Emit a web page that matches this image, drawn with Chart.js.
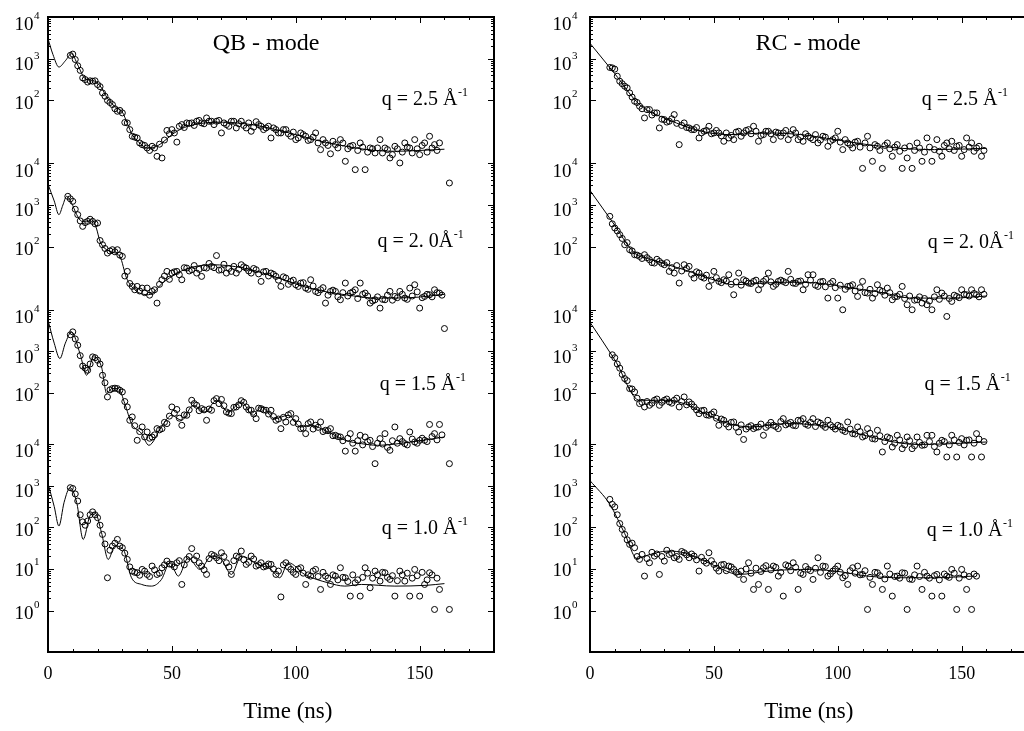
<!DOCTYPE html>
<html>
<head>
<meta charset="utf-8">
<script src="https://cdn.jsdelivr.net/npm/chart.js@4.4.1/dist/chart.umd.min.js"></script>
<style>
html, body { margin: 0; padding: 0; background: #fff; overflow: hidden; width: 1024px; height: 731px; }
.panel { position: absolute; top: 0; height: 731px; }
#leftBox { left: 0; width: 512px; }
#rightBox { left: 512px; width: 540px; }
</style>
</head>
<body>
<div class="panel" id="leftBox"><canvas id="qbChart" width="512" height="731"></canvas></div>
<div class="panel" id="rightBox"><canvas id="rcChart" width="540" height="731"></canvas></div>
<script>
// ================= DATA (log10 of intensity) =================
const timeNs = [8,10,12,14,16,18,20,22,24,26,28,30,32,34,36,38,40,42,44,46,48,50,52,54,56,58,60,62,64,66,68,70,72,74,76,78,80,82,84,86,88,90,92,94,96,98,100,102,104,106,108,110,112,114,116,118,120,122,124,126,128,130,132,134,136,138,140,142,144,146,148,150,152,154,156,158,160,162];
const timeNsOdd = [9,11,13,15,17,19,21,23,25,27,29,31,33,35,37,39,41,43,45,47,49,51,53,55,57,59,61,63,65,67,69,71,73,75,77,79,81,83,85,87,89,91,93,95,97,99,101,103,105,107,109,111,113,115,117,119,121,123,125,127,129,131,133,135,137,139,141,143,145,147,149,151,153,155,157,159,161];

// QB - mode
const qb25 = [null,3.11,2.83,2.54,2.44,2.46,2.38,2.18,2.00,1.90,
  1.74,1.70,1.46,1.14,1.10,0.94,0.86,0.90,0.66,0.62,
  1.28,1.30,1.00,1.42,1.46,1.46,1.50,1.46,1.58,1.50,
  1.50,1.22,1.42,1.50,1.34,1.50,1.34,1.26,1.49,1.38,
  1.34,1.10,1.30,1.22,1.30,1.14,1.06,1.22,1.14,1.06,
  1.22,0.82,0.98,0.72,0.94,1.06,0.54,0.90,0.34,0.98,
  0.34,0.86,0.74,1.06,0.86,0.62,0.90,0.50,0.98,0.86,
  1.06,0.70,0.98,1.14,0.94,0.98,null,0.02];
const qb25odd = [3.08,2.98,2.72,2.50,2.47,2.47,2.33,2.10,1.95,1.80,
  1.76,1.47,1.30,1.12,0.98,0.92,0.80,0.86,0.95,1.05,
  1.20,1.22,1.38,1.35,1.45,1.40,1.52,1.44,1.50,1.42,
  1.52,1.46,1.38,1.50,1.44,1.40,1.46,1.36,1.42,1.30,
  1.38,1.34,1.22,1.30,1.20,1.24,1.10,1.18,1.04,1.12,
  0.98,1.06,0.92,1.02,0.86,0.98,0.84,0.92,0.80,0.88,
  0.76,0.84,0.86,0.74,0.82,0.70,0.84,0.76,0.88,0.74,
  0.84,0.92,0.76,0.86,0.80,null,null];
const qb20 = [3.21,3.09,2.77,2.49,2.61,2.61,2.57,2.05,1.85,1.93,
  1.93,1.77,1.41,1.05,1.05,1.01,1.01,0.93,0.65,1.21,
  1.41,1.37,1.41,1.21,1.49,1.45,1.37,1.29,1.49,1.53,
  1.79,1.45,1.37,1.41,1.37,1.57,1.49,1.37,1.45,1.17,
  1.41,1.37,1.29,1.05,1.25,1.17,1.09,1.13,1.01,1.21,
  0.93,0.97,0.65,0.93,0.93,0.73,1.13,0.89,0.97,1.13,
  0.89,0.65,0.73,0.53,0.73,0.93,0.81,0.93,0.77,1.01,
  1.09,0.53,0.81,0.85,0.97,0.89,0.04,null];
const qb20odd = [3.15,2.90,2.62,2.58,2.66,2.55,2.15,1.96,1.90,1.88,
  1.80,1.30,1.12,0.97,0.94,0.90,0.84,0.97,1.10,1.30,
  1.22,1.40,1.33,1.50,1.42,1.55,1.46,1.50,1.60,1.50,
  1.44,1.58,1.48,1.53,1.46,1.52,1.42,1.48,1.35,1.40,
  1.30,1.34,1.20,1.28,1.10,1.20,1.05,1.14,0.98,1.06,
  0.90,1.02,0.84,0.96,0.80,0.90,0.82,0.92,0.76,0.86,
  0.82,0.70,0.80,0.74,0.84,0.72,0.78,0.86,0.74,0.82,
  0.92,0.78,0.86,0.80,0.90,0.84,null];
const qb15 = [null,3.47,3.15,2.65,2.55,2.87,2.79,2.43,1.91,2.11,
  2.11,2.03,1.67,1.43,0.87,1.19,1.07,0.95,1.15,1.15,
  1.27,1.67,1.61,1.23,1.47,1.83,1.71,1.63,1.35,1.59,
  1.87,1.85,1.55,1.51,1.67,1.82,1.67,1.59,1.39,1.63,
  1.59,1.59,1.35,1.15,1.31,1.51,1.39,1.15,1.03,1.31,
  1.23,1.31,1.11,1.15,0.99,0.95,0.61,1.03,0.61,0.99,
  0.95,0.87,0.31,0.91,1.03,0.63,1.19,0.91,0.79,1.07,
  0.83,0.87,0.87,1.25,1.03,1.25,null,0.31];
const qb15odd = [3.40,3.30,2.90,2.60,2.70,2.85,2.70,2.25,2.08,2.12,
  2.07,1.80,1.35,1.22,1.08,0.95,0.92,1.00,1.12,1.30,
  1.45,1.52,1.40,1.48,1.60,1.75,1.58,1.60,1.62,1.82,
  1.75,1.70,1.52,1.66,1.72,1.78,1.60,1.50,1.64,1.60,
  1.50,1.44,1.38,1.42,1.48,1.30,1.26,1.16,1.27,1.14,
  1.18,1.08,1.10,0.98,0.96,0.86,0.92,0.80,0.86,0.76,
  0.84,0.72,0.80,0.78,0.70,0.86,0.80,0.84,0.76,0.90,
  0.80,0.92,0.84,0.96,0.88,1.00,null];
const qb10 = [null,2.93,2.63,2.13,2.15,2.37,2.23,1.83,0.79,1.55,
  1.71,1.51,1.23,0.95,0.91,0.99,0.87,1.07,0.87,1.03,
  1.19,1.11,1.15,0.63,1.23,1.49,1.31,1.07,0.87,1.35,
  1.27,1.39,1.15,0.87,1.31,1.43,1.11,1.31,1.07,1.15,
  1.07,1.11,0.87,0.33,1.15,0.99,0.87,1.03,0.63,0.83,
  0.99,0.51,0.83,0.63,0.83,1.03,0.79,0.35,0.67,0.35,
  1.03,0.55,0.95,0.71,0.91,0.75,0.35,0.95,0.71,0.35,
  0.99,0.35,0.63,0.91,0.03,0.51,null,0.03];
const qb10odd = [2.95,2.80,2.30,2.05,2.30,2.30,2.05,1.60,1.45,1.62,
  1.55,1.38,1.05,0.92,0.85,0.95,0.82,0.98,0.90,1.10,
  1.12,1.05,1.20,1.10,1.30,1.22,1.15,0.98,1.25,1.32,
  1.20,1.30,1.05,1.20,1.28,1.22,1.16,1.24,1.10,1.05,
  1.12,1.00,0.95,1.10,1.05,0.92,1.00,0.90,0.86,0.95,
  0.82,0.92,0.78,0.86,0.74,0.80,0.70,0.86,0.74,0.80,
  0.90,0.78,0.86,0.92,0.80,0.84,0.72,0.86,0.90,0.78,
  0.84,0.92,0.74,0.86,0.78,null,null];

// RC - mode
const rc25 = [2.79,2.75,2.46,2.34,2.18,1.98,1.86,1.58,1.78,1.70,
  1.34,1.54,1.50,1.66,0.94,1.46,1.34,1.30,1.10,1.26,
  1.38,1.22,1.22,1.02,1.10,1.06,1.26,1.22,1.30,1.38,
  1.02,1.18,1.26,1.06,1.22,1.22,1.06,1.30,1.06,1.02,
  1.14,1.06,0.98,1.14,0.90,1.06,1.26,0.82,0.98,0.86,
  1.02,0.37,1.14,0.54,0.90,0.37,0.98,0.66,0.94,0.37,
  0.62,0.37,0.98,0.54,1.10,0.54,1.06,0.66,0.98,1.02,
  0.90,0.66,1.10,0.98,0.86,0.66,null,null];
const rc25odd = [2.78,2.58,2.40,2.30,2.08,1.95,1.80,1.78,1.65,1.70,
  1.55,1.48,1.56,1.45,1.40,1.35,1.30,1.35,1.22,1.28,
  1.20,1.28,1.15,1.22,1.16,1.24,1.14,1.28,1.20,1.26,
  1.16,1.26,1.20,1.24,1.14,1.28,1.18,1.22,1.12,1.20,
  1.10,1.18,1.05,1.12,1.02,1.10,1.00,1.06,0.94,1.00,
  0.88,0.98,0.86,0.94,0.80,0.92,0.84,0.88,0.78,0.86,
  0.90,0.80,0.86,0.76,0.88,0.82,0.78,0.92,0.84,0.80,
  0.92,0.82,0.88,0.78,0.90,0.80,null];
const rc20 = [2.73,2.45,2.29,2.05,1.93,1.81,1.77,1.81,1.69,1.61,
  1.65,1.57,1.41,1.37,1.13,1.57,1.53,1.25,1.37,1.25,
  1.05,1.41,1.17,1.21,1.33,0.85,1.37,1.21,1.13,1.17,
  0.97,1.17,1.37,1.05,1.17,1.17,1.41,1.13,1.17,0.97,
  1.33,1.33,1.05,1.17,0.77,1.17,0.77,0.49,1.05,1.09,
  0.81,1.17,0.89,0.77,1.09,0.93,1.01,0.73,0.81,1.05,
  0.61,0.49,0.73,0.65,0.61,0.49,0.97,0.89,0.33,0.69,
  0.81,0.97,0.85,0.97,0.85,0.97,null,null];
const rc20odd = [2.55,2.38,2.20,2.10,1.90,1.80,1.72,1.74,1.62,1.70,
  1.60,1.62,1.50,1.55,1.42,1.48,1.34,1.40,1.28,1.32,
  1.20,1.26,1.14,1.18,1.10,1.16,1.08,1.18,1.12,1.20,
  1.10,1.22,1.16,1.10,1.20,1.14,1.22,1.12,1.18,1.10,
  1.20,1.08,1.16,1.04,1.12,1.02,1.08,0.98,1.06,0.94,
  1.02,0.90,0.98,0.88,0.96,0.84,0.90,0.80,0.86,0.76,
  0.82,0.72,0.80,0.76,0.70,0.80,0.74,0.82,0.76,0.84,
  0.78,0.86,0.82,0.88,0.80,0.86,null];
const rc15 = [null,2.85,2.60,2.35,2.11,2.03,1.75,1.67,1.71,1.83,
  1.71,1.83,1.79,1.83,1.67,1.91,1.79,1.67,1.51,1.59,
  1.47,1.55,1.23,1.35,1.19,1.31,1.07,0.89,1.19,1.15,
  1.19,0.99,1.23,1.23,1.15,1.39,1.27,1.23,1.35,1.39,
  1.23,1.39,1.31,1.23,1.35,1.19,1.23,1.11,1.31,1.03,
  1.19,0.95,1.15,0.91,1.11,0.59,0.95,0.71,0.99,0.67,
  0.95,0.67,0.95,0.75,0.99,0.99,0.59,0.87,0.47,0.99,
  0.47,0.91,0.87,0.47,1.03,0.47,null,null];
const rc15odd = [2.92,2.70,2.45,2.30,2.10,1.88,1.78,1.80,1.76,1.86,
  1.78,1.86,1.76,1.88,1.80,1.72,1.74,1.60,1.58,1.48,
  1.50,1.40,1.38,1.26,1.30,1.18,1.24,1.14,1.22,1.18,
  1.26,1.18,1.30,1.20,1.32,1.24,1.30,1.22,1.34,1.26,
  1.30,1.20,1.28,1.18,1.24,1.14,1.20,1.08,1.14,1.02,
  1.08,0.98,1.04,0.90,0.98,0.84,0.92,0.80,0.88,0.76,
  0.86,0.74,0.82,0.76,0.84,0.72,0.80,0.84,0.76,0.88,
  0.82,0.76,0.88,0.80,0.90,0.84,null];
const rc10 = [2.67,2.49,2.09,1.83,1.59,1.51,1.23,0.83,1.15,1.31,
  0.87,1.19,1.35,1.27,1.23,1.39,1.27,1.31,0.95,1.19,
  1.39,1.11,0.95,1.11,1.07,0.99,0.87,0.75,1.15,0.51,
  0.63,1.03,0.51,1.07,0.83,0.35,1.07,1.15,0.51,0.87,
  0.99,0.75,1.27,1.07,0.83,0.95,1.07,0.79,0.63,1.03,
  1.07,0.87,0.03,0.63,0.91,0.51,1.07,0.35,0.83,0.91,
  0.03,0.75,1.07,0.51,0.83,0.35,0.87,0.35,0.83,0.99,
  0.03,0.99,0.51,0.03,0.83,null,null,null];
const rc10odd = [2.55,2.30,1.95,1.70,1.62,1.30,1.35,1.25,1.40,1.36,
  1.30,1.45,1.38,1.30,1.42,1.34,1.36,1.22,1.28,1.14,
  1.20,1.02,1.10,0.96,1.05,0.92,0.95,1.00,0.90,1.02,
  0.94,1.08,0.98,1.04,0.92,1.10,0.96,1.04,0.90,1.06,
  0.96,1.02,0.92,1.06,0.88,1.00,0.92,0.84,0.96,0.90,
  0.86,0.96,0.80,0.92,0.84,0.76,0.88,0.82,0.78,0.90,
  0.76,0.86,0.82,0.92,0.78,0.84,0.74,0.88,0.80,0.90,
  0.78,0.86,0.82,0.88,null,null,null];

// fitted curves: [time ns, log10 I]
const qbFit25 = [[0,3.48],[2,3.1],[4.4,2.8],[7,2.95],[9.5,3.12],[12,2.85],[15,2.52],[18,2.48],[21,2.35],[24,2.05],[27,1.85],[30,1.72],[32,1.45],[34,1.18],[37,0.98],[40,0.86],[43,0.88],[46,0.98],[50,1.18],[55,1.35],[62,1.45],[70,1.48],[78,1.45],[86,1.38],[94,1.27],[100,1.18],[108,1.05],[116,0.95],[124,0.86],[132,0.8],[140,0.78],[150,0.8],[160,0.83]];
const qbFit20 = [[0,3.5],[2.5,3.1],[4.4,2.77],[6,3.0],[7.5,3.21],[9.5,3.05],[11.6,2.77],[13.6,2.61],[15.5,2.6],[17.6,2.65],[19.5,2.45],[21,2.13],[25,1.89],[29,1.77],[31.7,1.25],[35,0.97],[40.5,0.85],[47,1.17],[55,1.45],[66,1.57],[79,1.49],[93,1.25],[106,1.0],[120,0.85],[133,0.77],[146,0.78],[160,0.86]];
const qbFit15 = [[0,3.75],[2.5,3.2],[4.8,2.83],[7,3.2],[9.5,3.47],[12.9,2.95],[15.6,2.43],[18.3,2.87],[21.6,2.63],[23.7,1.99],[25.7,2.11],[28.4,2.11],[31,1.75],[33.7,1.27],[37.8,1.03],[40.7,0.75],[45.8,1.19],[49.9,1.47],[53.9,1.35],[58.6,1.71],[63.3,1.55],[68,1.83],[72.7,1.55],[78,1.79],[82.8,1.47],[86,1.67],[91.5,1.39],[97,1.47],[102,1.19],[106,1.23],[113,1.07],[120,0.87],[126.5,0.79],[133,0.75],[146.6,0.83],[160,0.95]];
const qbFit10 = [[0,3.05],[2.5,2.5],[4.4,2.03],[6.5,2.6],[8.9,2.95],[11.6,2.59],[14.2,1.71],[16.9,2.27],[19,2.35],[21.6,1.87],[24.3,1.23],[27,1.55],[30.4,1.47],[33.7,0.79],[37.8,0.63],[41.8,0.59],[45.8,0.75],[49.2,1.15],[52.6,0.83],[56.6,1.27],[61.3,0.99],[66,1.31],[70,1.23],[74,0.87],[78,1.31],[84.8,1.11],[90,0.99],[93.5,0.79],[97,1.15],[103.6,0.87],[113,0.67],[119.8,0.59],[126.5,0.63],[140,0.59],[153,0.61],[160,0.65]];
const rcFit25 = [[0,3.37],[10,2.64],[20,1.9],[31.6,1.54],[45,1.26],[56,1.18],[72,1.22],[85,1.18],[99,1.06],[112,0.94],[126,0.85],[139,0.82],[160,0.85]];
const rcFit20 = [[0,3.35],[9,2.6],[18,1.85],[25,1.69],[38,1.45],[52,1.17],[58,1.09],[65,1.11],[79,1.15],[92,1.13],[105.5,1.01],[119,0.89],[126,0.79],[132,0.77],[146,0.77],[160,0.82]];
const rcFit15 = [[0,3.7],[10,2.8],[20,1.83],[30,1.83],[38,1.75],[45,1.55],[56,1.27],[65,1.19],[79,1.27],[92,1.23],[105.5,1.07],[119,0.87],[132,0.77],[146,0.79],[160,0.83]];
const rcFit10 = [[0,3.12],[8,2.55],[14,1.85],[19,1.25],[22,1.31],[31.6,1.43],[38,1.39],[45,1.23],[52,1.03],[60,0.87],[72,0.95],[85,0.99],[99,0.95],[112,0.83],[126,0.79],[139,0.79],[154.6,0.83]];

// axes / labels
const xTickValues = [0, 50, 100, 150];
const blockExps = [[2,3,4],[2,3,4],[2,3,4],[0,1,2,3,4]];
const qTexts = ['q = 2.5 Å', 'q = 2. 0Å', 'q = 1.5 Å', 'q = 1.0 Å'];

// ================= LAYOUT =================
const SERIF = "'Liberation Serif', 'Times New Roman', serif";
const blockShift = [10.236, 6.726, 3.216, 0];   // decades each curve is lifted by
const yMinDec = -0.99, yMaxDec = 14.236;
const lgToY = (lg, b) => Math.pow(10, lg + blockShift[b]);
const expNudge = { 4: 7, 3: 5, 2: 2, 1: 1, 0: 2 };

function drawPower(ctx, exp, xRight, yMid) {
    ctx.font = '19px ' + SERIF;
    const wBase = ctx.measureText('10').width;
    ctx.font = '11px ' + SERIF;
    const wExp = ctx.measureText(String(exp)).width;
    ctx.font = '19px ' + SERIF;
    ctx.fillText('10', xRight - wExp - wBase, yMid + 6.3);
    ctx.font = '11px ' + SERIF;
    ctx.fillText(String(exp), xRight - wExp + 0.5, yMid - 5);
}

function drawQ(ctx, text, x, base) {
    ctx.font = '20px ' + SERIF;
    ctx.fillText(text, x, base);
    const w = ctx.measureText(text).width;
    ctx.font = '12px ' + SERIF;
    ctx.fillText('-1', x + w + 0.5, base - 9);
}

function makeDecor(p) {
    return {
        id: 'decor',
        afterDatasetsDraw(chart) {
            const { ctx, chartArea: a, scales: { x, y } } = chart;
            ctx.save();
            ctx.strokeStyle = '#000'; ctx.fillStyle = '#000';
            ctx.lineWidth = 1;
            ctx.beginPath();
            for (let t = 0; t <= 180; t += 10) {
                const px = Math.round(x.getPixelForValue(t)) + 0.5, len = t % 50 === 0 ? 6 : 3;
                ctx.moveTo(px, a.bottom); ctx.lineTo(px, a.bottom - len);
                ctx.moveTo(px, a.top); ctx.lineTo(px, a.top + len);
            }
            const tick = (py, len) => {
                py = Math.round(py) + 0.5;
                ctx.moveTo(a.left, py); ctx.lineTo(a.left + len, py);
                ctx.moveTo(a.right, py); ctx.lineTo(a.right - len, py);
            };
            blockExps.forEach((exps, b) => {
                exps.forEach((e, i) => {
                    tick(y.getPixelForValue(lgToY(e, b)), 6);
                    if (i < exps.length - 1)
                        for (let k = 2; k <= 9; k++) tick(y.getPixelForValue(lgToY(e + Math.log10(k), b)), 3);
                });
            });
            ctx.stroke();
            ctx.lineWidth = 2;
            ctx.strokeRect(a.left, a.top, a.right - a.left, a.bottom - a.top);

            ctx.textAlign = 'left'; ctx.textBaseline = 'alphabetic';
            blockExps.forEach((exps, b) => exps.forEach(e => {
                drawPower(ctx, e, a.left - p.labelGap, y.getPixelForValue(lgToY(e, b)) + expNudge[e]);
            }));
            qTexts.forEach((txt, b) => {
                drawQ(ctx, txt, x.getPixelForValue(p.qAt[b][0]), y.getPixelForValue(lgToY(p.qAt[b][1], b)));
            });
            ctx.textAlign = 'center';
            ctx.font = '24px ' + SERIF;
            ctx.fillText(p.title, x.getPixelForValue(88), a.top + 33);
            ctx.font = '23px ' + SERIF;
            ctx.fillText('Time (ns)', x.getPixelForValue(p.xTitleAt), 718);
            ctx.restore();
        }
    };
}

function buildPanel(p) {
    const datasets = [];
    p.series.forEach((pair, b) => {
        const pts = [];
        pair[0].forEach((v, i) => { if (v != null) pts.push({ x: timeNs[i], y: lgToY(v, b) }); });
        pair[1].forEach((v, i) => { if (v != null) pts.push({ x: timeNsOdd[i], y: lgToY(v, b) }); });
        pts.sort((m, n) => m.x - n.x);
        datasets.push({ data: pts, showLine: false, pointRadius: 3, pointBorderWidth: 1,
            pointBorderColor: '#000', pointBackgroundColor: 'rgba(255,255,255,0)' });
    });
    p.fits.forEach((fit, b) => {
        datasets.push({ data: fit.map(q => ({ x: q[0], y: lgToY(q[1], b) })), showLine: true,
            pointRadius: 0, borderColor: '#000', borderWidth: 1, cubicInterpolationMode: 'monotone' });
    });
    return new Chart(document.getElementById(p.canvas), {
        type: 'scatter',
        data: { datasets },
        options: {
            responsive: false, animation: false, events: [],
            layout: { padding: { top: 17, right: p.padRight, left: 0, bottom: 0 } },
            plugins: { legend: { display: false }, tooltip: { enabled: false } },
            scales: {
                x: { type: 'linear', min: 0, max: 180,
                    grid: { display: false, drawTicks: false }, border: { display: false },
                    afterBuildTicks: s => { s.ticks = xTickValues.map(v => ({ value: v })); },
                    afterFit: s => { s.height = 79; },
                    ticks: { color: '#000', padding: 11, maxRotation: 0, font: { family: SERIF, size: 18 } } },
                y: { type: 'logarithmic', min: Math.pow(10, yMinDec), max: Math.pow(10, yMaxDec),
                    grid: { display: false, drawTicks: false }, border: { display: false },
                    ticks: { display: false },
                    afterFit: s => { s.width = p.yWidth; } }
            }
        },
        plugins: [makeDecor(p)]
    });
}

buildPanel({ canvas: 'qbChart', series: [[qb25, qb25odd], [qb20, qb20odd], [qb15, qb15odd], [qb10, qb10odd]],
    fits: [qbFit25, qbFit20, qbFit15, qbFit10],
    title: 'QB - mode', yWidth: 48, padRight: 18, labelGap: 9, xTitleAt: 96.8,
    qAt: [[134.7, 1.90], [133, 2.0], [133.9, 2.07], [134.7, 1.83]] });
buildPanel({ canvas: 'rcChart', series: [[rc25, rc25odd], [rc20, rc20odd], [rc15, rc15odd], [rc10, rc10odd]],
    fits: [rcFit25, rcFit20, rcFit15, rcFit10],
    title: 'RC - mode', yWidth: 78, padRight: 16, labelGap: 13, xTitleAt: 88.3,
    qAt: [[133.9, 1.90], [136.3, 1.98], [135, 2.07], [135.9, 1.78]] });
</script>
</body>
</html>
